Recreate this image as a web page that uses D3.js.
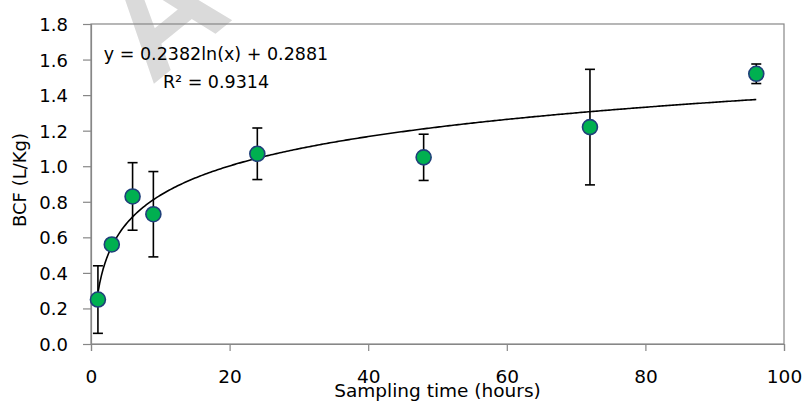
<!DOCTYPE html>
<html>
<head>
<meta charset="utf-8">
<script src="https://cdn.jsdelivr.net/npm/d3@7"></script>
<style>
  html, body { margin: 0; padding: 0; background: #ffffff; }
  svg { display: block; }
  text { font-family: "DejaVu Sans", sans-serif; fill: #000; }
</style>
</head>
<body>
<div id="chart"></div>
<script>
// Sampling times (h), mean BCF (L/Kg) and standard deviation
const times = [1, 3, 6, 9, 24, 48, 72, 96];
const bcf = [0.25, 0.56, 0.83, 0.73, 1.07, 1.05, 1.22, 1.52];
const sd = [0.19, 0.03, 0.19, 0.24, 0.145, 0.13, 0.325, 0.055];

// Logarithmic trend: y = a ln(x) + b
const trendA = 0.2382;
const trendB = 0.2881;
const rSquared = 0.9314;

const xTicks = [0, 20, 40, 60, 80, 100];
const yTicks = [0.0, 0.2, 0.4, 0.6, 0.8, 1.0, 1.2, 1.4, 1.6, 1.8];

const width = 806, height = 403;
const margin = { top: 24, right: 22, bottom: 59, left: 91 };

const svg = d3.select("#chart").append("svg")
  .attr("width", width)
  .attr("height", height);

// Faint diagonal watermark behind the plot
svg.append("text")
  .attr("transform", "translate(151,86) rotate(-39)")
  .style("font-family", "'Liberation Sans', sans-serif")
  .style("font-weight", "bold")
  .style("font-size", "150px")
  .style("fill", "#dadada")
  .text("ACC");

const x = d3.scaleLinear().domain([0, 100]).range([margin.left, width - margin.right]);
const y = d3.scaleLinear().domain([0, 1.8]).range([height - margin.bottom, margin.top]);

const axisColor = "#878787";

// Plot frame
svg.append("rect")
  .attr("x", x(0)).attr("y", y(1.8))
  .attr("width", x(100) - x(0)).attr("height", y(0) - y(1.8))
  .attr("fill", "none").attr("stroke", axisColor).attr("stroke-width", 1.2);

// Y axis
const yAxis = svg.append("g")
  .attr("transform", `translate(${x(0)},0)`)
  .call(d3.axisLeft(y).tickValues(yTicks).tickFormat(d3.format(".1f")).tickSize(8).tickPadding(15));
yAxis.select(".domain").attr("stroke", axisColor).attr("stroke-width", 1.2);
yAxis.selectAll(".tick line").attr("stroke", axisColor).attr("stroke-width", 1.2);
yAxis.selectAll(".tick text").style("font-size", "18px").attr("font-family", null).attr("dy", "0.36em");

// X axis
const xAxis = svg.append("g")
  .attr("transform", `translate(0,${y(0)})`)
  .call(d3.axisBottom(x).tickValues(xTicks).tickFormat(d3.format("d")).tickSize(7).tickPadding(32));
xAxis.select(".domain").attr("stroke", axisColor).attr("stroke-width", 1.2);
xAxis.selectAll(".tick line").attr("stroke", axisColor).attr("stroke-width", 1.2);
xAxis.selectAll(".tick text").style("font-size", "18.5px").attr("font-family", null).attr("dy", "0");

// Axis titles
svg.append("text")
  .attr("x", (x(0) + x(100)) / 2)
  .attr("y", 397)
  .attr("text-anchor", "middle")
  .style("font-size", "18.5px")
  .text("Sampling time (hours)");

svg.append("text")
  .attr("transform", `translate(26,${(y(0) + y(1.8)) / 2 - 4}) rotate(-90)`)
  .attr("text-anchor", "middle")
  .style("font-size", "18px")
  .text("BCF (L/Kg)");

// Trend line
const trendX = d3.range(1, 96.01, 0.25);
const line = d3.line()
  .x(d => x(d))
  .y(d => y(trendA * Math.log(d) + trendB));
svg.append("path")
  .datum(trendX)
  .attr("d", line)
  .attr("fill", "none")
  .attr("stroke", "#000")
  .attr("stroke-width", 1.6);

// Error bars
const capHalf = 5;
const err = svg.append("g").attr("stroke", "#000").attr("stroke-width", 1.6);
times.forEach((t, i) => {
  const lo = bcf[i] - sd[i], hi = bcf[i] + sd[i];
  err.append("line").attr("x1", x(t)).attr("x2", x(t)).attr("y1", y(lo)).attr("y2", y(hi));
  err.append("line").attr("x1", x(t) - capHalf).attr("x2", x(t) + capHalf).attr("y1", y(lo)).attr("y2", y(lo));
  err.append("line").attr("x1", x(t) - capHalf).attr("x2", x(t) + capHalf).attr("y1", y(hi)).attr("y2", y(hi));
});

// Data points
svg.append("g")
  .selectAll("circle")
  .data(times)
  .join("circle")
  .attr("cx", d => x(d))
  .attr("cy", (d, i) => y(bcf[i]))
  .attr("r", 7.5)
  .attr("fill", "#00b050")
  .attr("stroke", "#1f3f7a")
  .attr("stroke-width", 1.6);

// Trend equation
const eq = svg.append("g").attr("text-anchor", "middle");
eq.append("text")
  .attr("x", 216).attr("y", 60)
  .style("font-size", "17.5px")
  .text(`y = ${trendA}ln(x) + ${trendB}`);
eq.append("text")
  .attr("x", 216).attr("y", 88)
  .style("font-size", "17.5px")
  .text(`R² = ${rSquared}`);
</script>
</body>
</html>
